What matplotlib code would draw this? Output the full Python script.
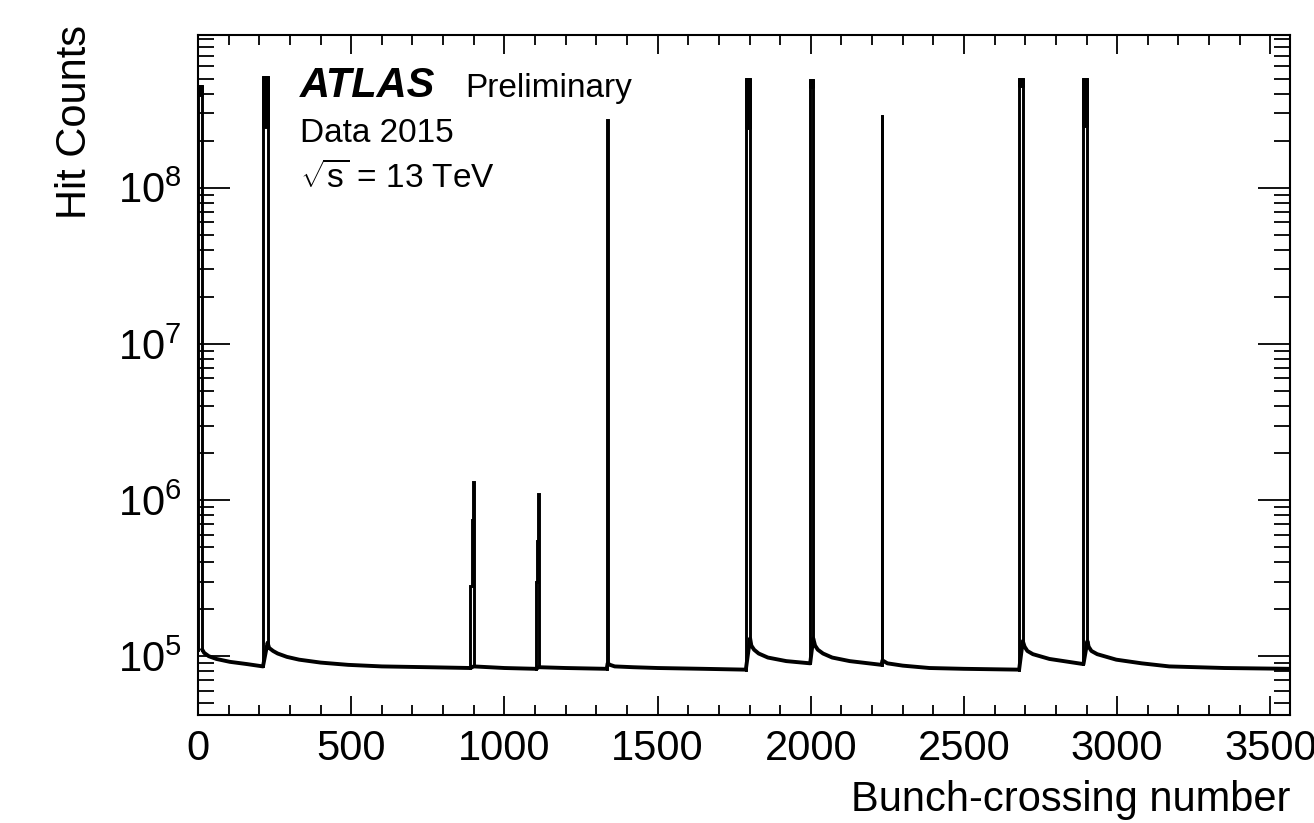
import numpy as np
import matplotlib.pyplot as plt
from matplotlib.ticker import MultipleLocator, LogLocator

plt.rcParams['font.family'] = ['Liberation Sans', 'DejaVu Sans']
plt.rcParams['mathtext.fontset'] = 'custom'
plt.rcParams['mathtext.rm'] = 'Liberation Sans'
plt.rcParams['mathtext.it'] = 'Liberation Sans:italic'
plt.rcParams['mathtext.bf'] = 'Liberation Sans:bold'

# Trenes de bunches: BCID inicial, final, maximo y minimo de la banda
tren_inicio = [1, 212, 1334, 1788, 1998, 2231, 2680, 2890]
tren_fin = [14, 227, 1337, 1802, 2008, 2234, 2692, 2903]
tren_max = [4.5e8, 5.1e8, 2.7e8, 5.0e8, 4.9e8, 2.9e8, 5.0e8, 5.0e8]
tren_min = [3.9e8, 2.45e8, 2.7e8, 2.4e8, 4.4e8, 2.9e8, 4.5e8, 2.5e8]

# Trenes pequenos (escalones)
tren_c_bcid = [889, 893, 896, 900]
tren_c_cuentas = [2.8e5, 7.5e5, 1.3e6]
tren_d_bcid = [1104, 1107, 1109, 1112]
tren_d_cuentas = [3.0e5, 5.5e5, 1.09e6]

# Fondo (afterglow)
base_bcid = [14, 20, 35, 60, 104, 160, 212,
             227, 232, 245, 260, 290, 330, 400, 490, 600, 750, 889,
             900, 1000, 1104,
             1112, 1200, 1334,
             1337, 1345, 1360, 1420, 1500, 1650, 1788,
             1802, 1806, 1815, 1830, 1860, 1920, 1998,
             2008, 2014, 2023, 2040, 2070, 2127, 2231,
             2234, 2250, 2300, 2387, 2500, 2680,
             2692, 2698, 2707, 2725, 2779, 2890,
             2903, 2907, 2916, 2935, 2997, 3080, 3170, 3350, 3564]
base_cuentas = [1.1e5, 1.05e5, 1.0e5, 9.6e4, 9.2e4, 8.9e4, 8.6e4,
                1.22e5, 1.13e5, 1.08e5, 1.04e5, 9.9e4, 9.5e4, 9.1e4, 8.8e4, 8.6e4, 8.5e4, 8.4e4,
                8.6e4, 8.4e4, 8.3e4,
                8.5e4, 8.4e4, 8.3e4,
                9.0e4, 8.8e4, 8.6e4, 8.5e4, 8.4e4, 8.3e4, 8.2e4,
                1.3e5, 1.17e5, 1.1e5, 1.04e5, 9.8e4, 9.3e4, 9.0e4,
                1.3e5, 1.17e5, 1.1e5, 1.04e5, 9.8e4, 9.3e4, 8.8e4,
                9.4e4, 9.0e4, 8.7e4, 8.4e4, 8.3e4, 8.2e4,
                1.25e5, 1.15e5, 1.08e5, 1.03e5, 9.6e4, 8.9e4,
                1.25e5, 1.15e5, 1.08e5, 1.03e5, 9.5e4, 9.0e4, 8.6e4, 8.4e4, 8.3e4]

lw = 2.8
lw_tren = 2.1
fig = plt.figure(figsize=(13.14, 8.23), dpi=100)
ax = fig.add_axes([0.1507, 0.1312, 0.8310, 0.8263])

# Fondo
ax.plot(base_bcid, base_cuentas, color='black', lw=lw, solid_joinstyle='round')


def base_en(b):
    # valor de fondo leido mas cercano
    i = int(np.argmin(np.abs(np.array(base_bcid) - b)))
    return base_cuentas[i]


# Trenes grandes
for b0, b1, ymax, ymin in zip(tren_inicio, tren_fin, tren_max, tren_min):
    ax.plot([b0, b0, b1, b1], [base_en(b0), ymax, ymax, base_en(b1)],
            color='black', lw=lw_tren, solid_joinstyle='miter')
    ax.fill_between([b0, b1], ymin, ymax, color='black', lw=lw_tren)

# Trenes pequenos
for bc, ct in [(tren_c_bcid, tren_c_cuentas), (tren_d_bcid, tren_d_cuentas)]:
    xs = [bc[0]]
    ys = [base_en(bc[0])]
    for k in range(len(ct)):
        xs += [bc[k], bc[k + 1]]
        ys += [ct[k], ct[k]]
    xs.append(bc[-1])
    ys.append(base_en(bc[-1]))
    ax.plot(xs, ys, color='black', lw=lw_tren, solid_joinstyle='miter')

ax.set_yscale('log')
ax.set_xlim(0, 3564)
ax.set_ylim(4.2e4, 9.5e8)

ax.xaxis.set_major_locator(MultipleLocator(500))
ax.xaxis.set_minor_locator(MultipleLocator(100))
ax.yaxis.set_major_locator(LogLocator(base=10))
ax.yaxis.set_minor_locator(LogLocator(base=10, subs=np.arange(2, 10)))

ax.tick_params(axis='both', which='both', direction='in', top=True, right=True,
               labelsize=30, width=1.3, colors='black')
ax.tick_params(axis='x', which='major', length=14, pad=10)
ax.tick_params(axis='x', which='minor', length=7)
ax.tick_params(axis='y', which='major', length=23, pad=12)
ax.tick_params(axis='y', which='minor', length=11.5)
for s in ax.spines.values():
    s.set_linewidth(1.5)

fig.text(0.057, 0.97, 'Hit Counts', rotation=90, ha='center', va='top', fontsize=30)
fig.text(0.982, 0.052, 'Bunch-crossing number', ha='right', va='top', fontsize=30)

fig.text(300 / 1314, 1 - 97 / 823, 'ATLAS', fontsize=30, fontweight='bold',
         fontstyle='italic', ha='left', va='baseline')
fig.text(465 / 1314, 1 - 97 / 823, 'Preliminary', fontsize=24, ha='left', va='baseline')
fig.text(300 / 1314, 1 - 142 / 823, 'Data 2015', fontsize=24, ha='left', va='baseline')
fig.text(300 / 1314, 1 - 188 / 823, r'$\sqrt{\mathrm{s}}$ = 13 TeV', fontsize=24,
         ha='left', va='baseline')

fig.savefig('out.png', dpi=100)
